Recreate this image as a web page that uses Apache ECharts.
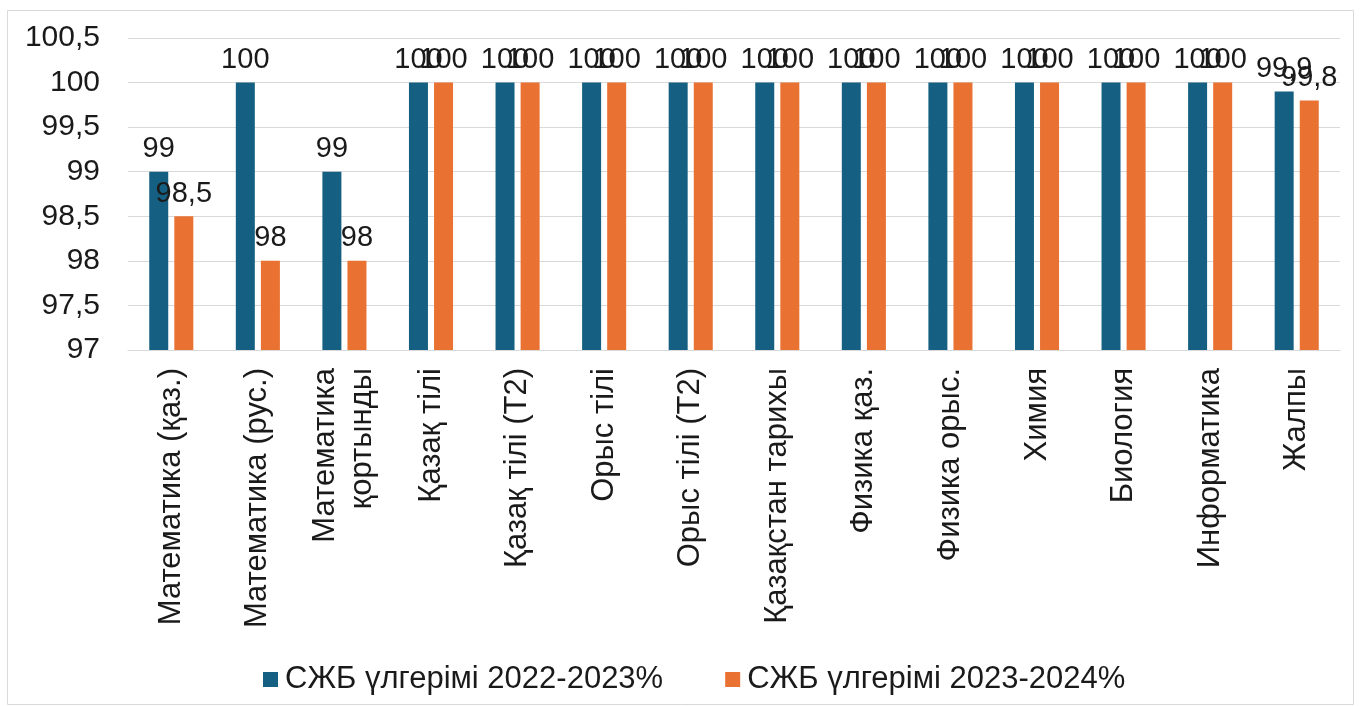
<!DOCTYPE html>
<html>
<head>
<meta charset="utf-8">
<script src="https://cdn.jsdelivr.net/npm/echarts@6/dist/echarts.min.js"></script>
<style>
  html, body { margin: 0; padding: 0; background: #fff; }
  #chart { width: 1361px; height: 706px; }
</style>
</head>
<body>
<div id="chart"></div>
<script>
const categories = [
  'Математика (қаз.)', 'Математика (рус.)', 'Математика\nқортынды', 'Қазақ тілі',
  'Қазақ тілі (Т2)', 'Орыс тілі', 'Орыс тілі (Т2)', 'Қазақстан тарихы',
  'Физика қаз.', 'Физика орыс.', 'Химия', 'Биология', 'Информатика', 'Жалпы'
]
const seriesNames = ['СЖБ үлгерімі 2022-2023%', 'СЖБ үлгерімі 2023-2024%']
const values2022 = [99, 100, 99, 100, 100, 100, 100, 100, 100, 100, 100, 100, 100, 99.9]
const values2023 = [98.5, 98, 98, 100, 100, 100, 100, 100, 100, 100, 100, 100, 100, 99.8]
const colors = ['#156082', '#E97132']

const font = '"Liberation Sans", Arial, sans-serif'
const textColor = '#1a1a1a'
const fmt = v => String(v).replace('.', ',')

const chart = echarts.init(document.getElementById('chart'))

const barSeries = [values2022, values2023].map((data, i) => ({
  name: seriesNames[i],
  type: 'bar',
  data,
  barWidth: 19,
  barGap: '32%',
  itemStyle: { color: colors[i] },
  label: {
    show: true,
    position: 'top',
    distance: 8,
    fontSize: 29,
    fontFamily: font,
    color: textColor,
    formatter: p => fmt(p.value)
  }
}))

chart.setOption({
  animation: false,
  graphic: [{
    type: 'rect',
    shape: { x: 7.5, y: 10.5, width: 1346, height: 694 },
    style: { fill: 'none', stroke: '#d9d9d9', lineWidth: 1 },
    silent: true
  }],
  grid: { left: 128, right: 21, top: 38, bottom: 356 },
  legend: {
    data: seriesNames,
    left: 258,
    top: 659,
    icon: 'rect',
    itemWidth: 15,
    itemHeight: 15,
    itemGap: 62,
    textStyle: { fontSize: 31, fontFamily: font, color: textColor, padding: [0, 0, 0, 2] }
  },
  xAxis: {
    type: 'category',
    data: categories,
    axisLine: { lineStyle: { color: '#d9d9d9' } },
    axisTick: { show: false },
    axisLabel: {
      rotate: 90,
      margin: 18,
      interval: 0,
      fontSize: 31,
      lineHeight: 37,
      fontFamily: font,
      color: textColor
    }
  },
  yAxis: {
    type: 'value',
    min: 97,
    max: 100.5,
    interval: 0.5,
    axisLine: { show: false },
    axisTick: { show: false },
    splitLine: { lineStyle: { color: '#d9d9d9' } },
    axisLabel: {
      margin: 28,
      fontSize: 30,
      fontFamily: font,
      color: textColor,
      formatter: fmt
    }
  },
  series: barSeries
})
</script>
</body>
</html>
